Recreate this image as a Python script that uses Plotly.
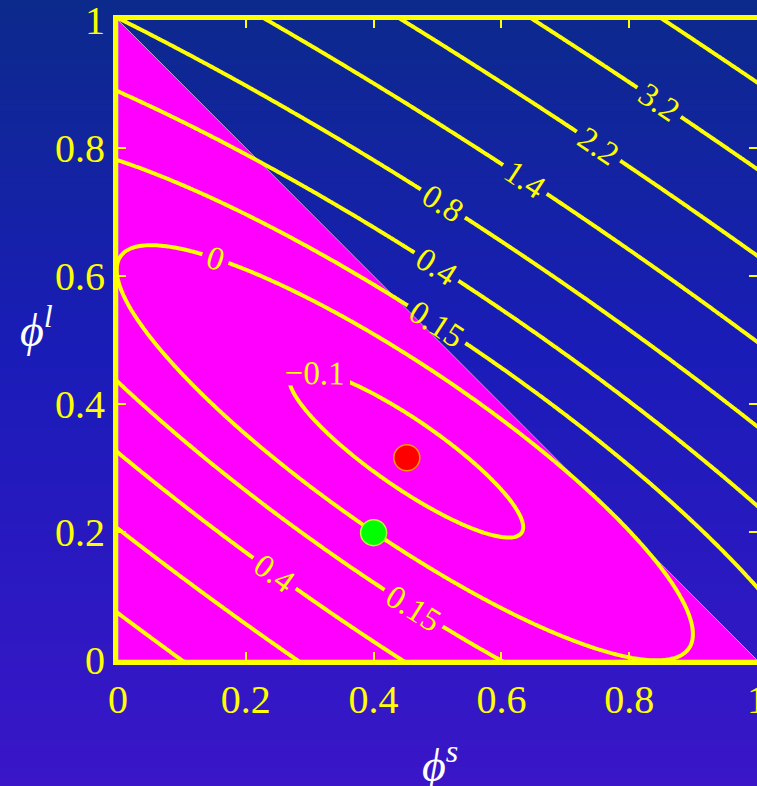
import numpy as np
import plotly.graph_objects as go

# ---------------- data ----------------
# contour levels (labels on the yellow lines)
levels = [-0.1, 0.0, 0.15, 0.4, 0.8, 1.4, 2.2, 3.2, 4.4]

# points (phi_s, phi_l)
c_m010_x = [0.265, 0.310, 0.634, 0.484, 0.410, 0.484, 0.467]
c_m010_y = [0.438, 0.450, 0.205, 0.241, 0.288, 0.365, 0.376]
c_000_x = [0.004, 0.840, 0.900, 0.764, 0.484, 0.176, 0.020, 0.400, 0.533, 0.023]
c_000_y = [0.590, 0.000, 0.060, 0.236, 0.453, 0.609, 0.645, 0.200, 0.107, 0.526]
c_015_x = [0.000, 0.163, 0.314, 0.488, 0.515, 0.741, 0.863, 1.000, 0.000, 0.600]
c_015_y = [0.780, 0.715, 0.637, 0.531, 0.516, 0.350, 0.246, 0.101, 0.433, 0.000]
c_040_x = [0.000, 0.163, 0.275, 0.488, 0.645, 0.741, 0.837, 1.000, 0.000, 0.443]
c_040_y = [0.888, 0.811, 0.748, 0.620, 0.514, 0.446, 0.368, 0.241, 0.324, 0.000]
c_080_x = [0.000, 0.163, 0.491, 0.848, 1.000, 0.000, 0.285]
c_080_y = [0.997, 0.919, 0.738, 0.479, 0.391, 0.210, 0.000]
c_140_x = [0.243, 0.319, 0.426, 0.488, 1.000, 0.000, 0.100]
c_140_y = [0.997, 0.950, 0.888, 0.850, 0.516, 0.081, 0.000]
c_220_x = [0.465, 0.484, 0.858, 1.000]
c_220_y = [0.997, 0.984, 0.728, 0.629]
c_320_x = [0.665, 0.868, 1.000]
c_320_y = [0.994, 0.857, 0.767]
c_440_x = [0.837, 1.000]
c_440_y = [0.994, 0.893]
contour_points = [
    (-0.1, c_m010_x, c_m010_y), (0.0, c_000_x, c_000_y), (0.15, c_015_x, c_015_y),
    (0.4, c_040_x, c_040_y), (0.8, c_080_x, c_080_y), (1.4, c_140_x, c_140_y),
    (2.2, c_220_x, c_220_y), (3.2, c_320_x, c_320_y), (4.4, c_440_x, c_440_y),
]

# feasible (magenta) region: phi_s + phi_l <= 1
region_x = [0, 1, 0]
region_y = [0, 0, 1]

# marked points
pts_x = [0.452, 0.400]
pts_y = [0.316, 0.199]
pts_color = ["#ff0000", "#00ff00"]
pts_edge = ["#ff9900", "#b0ff30"]

# ticks
tick_vals = [0, 0.2, 0.4, 0.6, 0.8, 1]
tick_text = ["0", "0.2", "0.4", "0.6", "0.8", "1"]

# ---------------- smooth surface through the read contour points ----------------
def basis(x, y):
    x = np.asarray(x, float)
    y = np.asarray(y, float)
    return np.stack([np.ones_like(x), x, y, x * x, x * y, y * y,
                     x ** 3, x * x * y, x * y * y, y ** 3], axis=-1)

def basis_dx(x, y):
    x = np.asarray(x, float)
    y = np.asarray(y, float)
    o, z = np.ones_like(x), np.zeros_like(x)
    return np.stack([z, o, z, 2 * x, y, z, 3 * x * x, 2 * x * y, y * y, z], axis=-1)

def basis_dy(x, y):
    x = np.asarray(x, float)
    y = np.asarray(y, float)
    o, z = np.ones_like(x), np.zeros_like(x)
    return np.stack([z, z, o, z, x, 2 * y, z, x * x, 2 * x * y, 3 * y * y], axis=-1)

px_all, py_all, lv_all = [], [], []
for lv, xs, ys in contour_points:
    px_all += xs
    py_all += ys
    lv_all += [lv] * len(xs)
A = basis(px_all, py_all)
Ax = basis_dx(px_all, py_all)
Ay = basis_dy(px_all, py_all)
b = np.asarray(lv_all)
w = np.ones(len(b))
for _ in range(8):  # geometric (distance-like) reweighting
    coef, *_ = np.linalg.lstsq(A * w[:, None], b * w, rcond=None)
    g = np.hypot(Ax @ coef, Ay @ coef)
    w = 1.0 / np.maximum(g, 0.3)

gx = np.linspace(-0.02, 1.02, 261)
gy = np.linspace(-0.02, 1.02, 261)
GX, GY = np.meshgrid(gx, gy)
Z = basis(GX, GY) @ coef

# ---------------- figure ----------------
W, H = 757, 786
ML, MR, MT, MB = 118, 0, 20, 126
PW, PH = W - ML - MR, H - MT - MB

def px_x(px):
    return (px - ML) / PW

def px_y(py):
    return (H - MB - py) / PH

YELLOW = "#ffff00"
SERIF = "Liberation Serif, DejaVu Serif, serif"

fig = go.Figure()

for lv in levels:
    fig.add_trace(go.Contour(
        x=gx, y=gy, z=Z, autocontour=False,
        contours=dict(start=lv, end=lv, size=1, coloring="lines",
                      showlabels=True,
                      labelfont=dict(family=SERIF, size=33, color=YELLOW)),
        line=dict(color=YELLOW, width=4),
        colorscale=[[0, YELLOW], [1, YELLOW]],
        showscale=False, hoverinfo="skip"))

fig.add_trace(go.Scatter(
    x=pts_x, y=pts_y, mode="markers",
    marker=dict(size=26, color=pts_color, line=dict(color=pts_edge, width=1.5)),
    hoverinfo="skip", showlegend=False))

# background gradient (top dark blue -> bottom violet-blue)
stops = [(0.0, (12, 42, 140)), (0.45, (26, 28, 184)), (1.0, (58, 22, 200))]
def grad(t):
    for (t0, c0), (t1, c1) in zip(stops[:-1], stops[1:]):
        if t <= t1:
            f = (t - t0) / (t1 - t0)
            return "rgb(%d,%d,%d)" % tuple(round(a + (b - a) * f) for a, b in zip(c0, c1))
    return "rgb(%d,%d,%d)" % stops[-1][1]

shapes = []
N = 120
for i in range(N):
    p0 = H * i / N
    p1 = H * (i + 1) / N + 1
    shapes.append(dict(type="rect", xref="paper", yref="paper", layer="below",
                       x0=px_x(-2), x1=px_x(W + 30), y0=px_y(p1), y1=px_y(p0),
                       fillcolor=grad((p0 + p1) / 2 / H), line=dict(width=0)))

# magenta feasible region drawn below the contour lines
tri_path = "M " + " L ".join("%g,%g" % (a, b) for a, b in zip(region_x, region_y)) + " Z"
shapes.append(dict(type="path", xref="x", yref="y", layer="below", path=tri_path,
                   fillcolor="#ff00ff", line=dict(color="#b8a0c8", width=1)))

axis_common = dict(
    range=[0, 1], tickvals=tick_vals, ticktext=tick_text,
    ticks="inside", ticklen=8, tickwidth=2, tickcolor=YELLOW,
    showline=True, linecolor=YELLOW, linewidth=5, mirror="ticks",
    showgrid=False, zeroline=False, ticklabeloverflow="allow", automargin=False,
    tickfont=dict(family=SERIF, size=40, color=YELLOW))

fig.update_layout(
    width=W, height=H, autosize=False,
    margin=dict(l=ML, r=MR, t=MT, b=MB, autoexpand=False),
    paper_bgcolor="rgb(26,28,184)", plot_bgcolor="rgba(0,0,0,0)",
    showlegend=False, shapes=shapes,
    xaxis=axis_common, yaxis=axis_common,
    annotations=[
        dict(xref="paper", yref="paper", x=px_x(440), y=px_y(762),
             xanchor="center", yanchor="middle", showarrow=False,
             text="<i>ϕ</i><sup><i>s</i></sup>",
             font=dict(family=SERIF, size=46, color="white")),
        dict(xref="paper", yref="paper", x=px_x(36), y=px_y(327),
             xanchor="center", yanchor="middle", showarrow=False,
             text="<i>ϕ</i><sup><i>l</i></sup>",
             font=dict(family=SERIF, size=46, color="white")),
    ])

fig.write_html(
    "out.html",
    config={"displayModeBar": False, "responsive": False},
    default_width="757px", default_height="786px",
    post_script=("document.documentElement.style.overflow='hidden';"
                 "document.body.style.margin='0';"
                 "document.body.style.overflow='hidden';"))
